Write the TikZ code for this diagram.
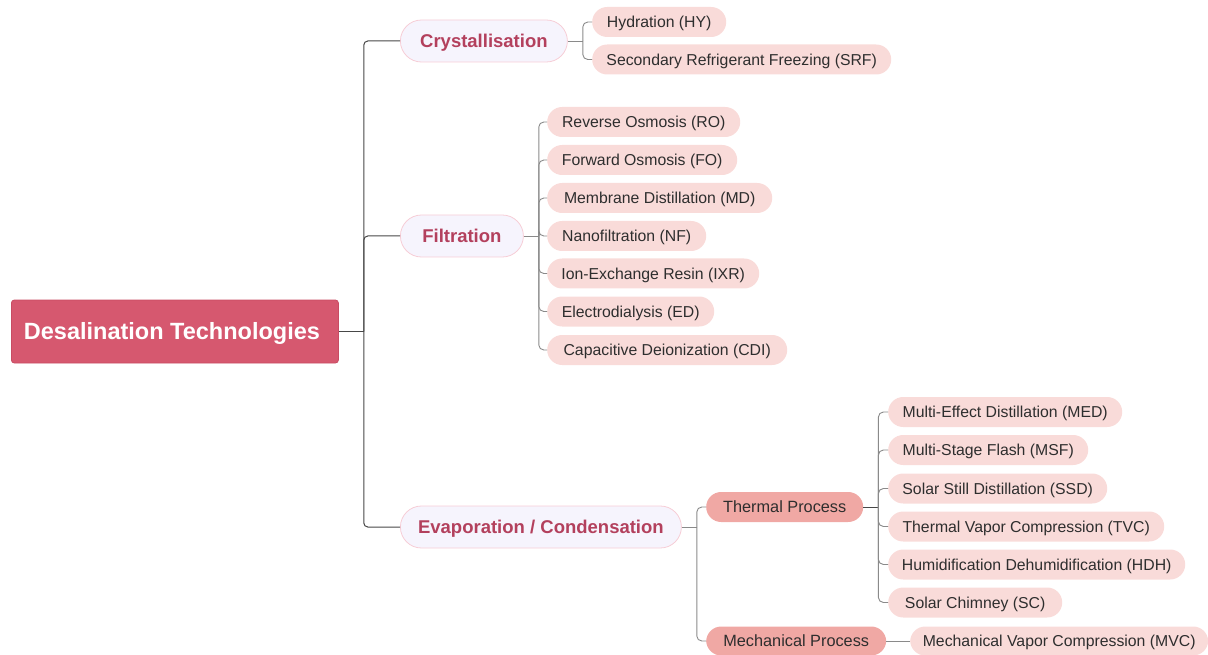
\documentclass[tikz,border=0pt]{standalone}
\usepackage{fontspec}
\setmainfont{Liberation Sans}
\definecolor{rootc}{HTML}{D6586F}
\definecolor{rootd}{HTML}{C84C63}
\definecolor{lvfill}{HTML}{F6F4FD}
\definecolor{lvdraw}{HTML}{F6CDD6}
\definecolor{lvtext}{HTML}{B3405D}
\definecolor{leafc}{HTML}{F9DBD9}
\definecolor{procc}{HTML}{F0A8A4}
\definecolor{txt}{HTML}{2E2E2E}
\definecolor{darkl}{HTML}{474747}
\definecolor{lightl}{HTML}{8A8A8A}
\begin{document}
\begin{tikzpicture}[x=1pt,y=-1pt,
  rootbox/.style={text height=16.8pt, text depth=0pt, fill=rootc, draw=rootd, line width=0.8pt, rounded corners=3pt, minimum height=63pt, inner sep=0pt, text=white, font=\fontsize{23.5}{27}\selectfont\bfseries},
  lvbox/.style={text height=13.25pt, text depth=0pt, fill=lvfill, draw=lvdraw, line width=0.8pt, rounded corners=21pt, minimum height=42pt, inner sep=0pt, anchor=west, text=lvtext, font=\fontsize{18.5}{22}\selectfont\bfseries},
  leaf/.style={text height=11.3pt, text depth=0pt, fill=leafc, rounded corners=15pt, minimum height=30pt, inner sep=0pt, anchor=west, text=txt, font=\fontsize{15.8}{19}\selectfont},
  proc/.style={text height=11.7pt, text depth=0pt, fill=procc, rounded corners=15pt, minimum height=30pt, inner sep=0pt, anchor=west, text=txt, font=\fontsize{16.3}{19}\selectfont},
  conn/.style={draw=darkl, line width=1pt},
  lconn/.style={draw=lightl, line width=0.9pt, rounded corners=5pt}
]
\useasboundingbox (0,0) rectangle (1208,655);
% root
\node[rootbox, minimum width=327pt, anchor=west] (root) at (11,331.5) {\hspace*{-6pt}Desalination Technologies};
% level 1
\node[lvbox, minimum width=167pt] (cry) at (400,41) {Crystallisation};
\node[lvbox, minimum width=123pt] (fil) at (400,236) {Filtration};
\node[lvbox, minimum width=281pt] (eva) at (400,527) {Evaporation / Condensation};
% crystallisation leaves
\node[leaf, minimum width=134pt] (hy) at (592,22) {Hydration (HY)};
\node[leaf, minimum width=299pt] (srf) at (592,59.5) {Secondary Refrigerant Freezing (SRF)};
% filtration leaves
\node[leaf, minimum width=193pt] (ro) at (547,122) {Reverse Osmosis (RO)};
\node[leaf, minimum width=190pt] (fo) at (547,160) {Forward Osmosis (FO)};
\node[leaf, minimum width=225pt] (md) at (547,198) {Membrane Distillation (MD)};
\node[leaf, minimum width=159pt] (nf) at (547,236) {Nanofiltration (NF)};
\node[leaf, minimum width=212pt] (ixr) at (547,273.5) {Ion-Exchange Resin (IXR)};
\node[leaf, minimum width=167pt] (ed) at (547,311.5) {Electrodialysis (ED)};
\node[leaf, minimum width=240pt] (cdi) at (547,350) {Capacitive Deionization (CDI)};
% processes
\node[proc, minimum width=157pt] (thp) at (706,507) {Thermal Process};
\node[proc, minimum width=180pt, minimum height=29pt] (mep) at (706,641) {Mechanical Process};
% thermal leaves
\node[leaf, minimum width=234pt] (med) at (888,412) {Multi-Effect Distillation (MED)};
\node[leaf, minimum width=200pt] (msf) at (888,450) {Multi-Stage Flash (MSF)};
\node[leaf, minimum width=219pt] (ssd) at (888,488.5) {Solar Still Distillation (SSD)};
\node[leaf, minimum width=276pt] (tvc) at (888,526.5) {Thermal Vapor Compression (TVC)};
\node[leaf, minimum width=297pt] (hdh) at (888,564.5) {Humidification Dehumidification (HDH)};
\node[leaf, minimum width=174pt] (sc) at (888,602.5) {Solar Chimney (SC)};
\node[leaf, minimum width=298pt, minimum height=29pt] (mvc) at (910,641) {Mechanical Vapor Compression (MVC)};
% connectors root
\draw[conn] (root.east) -- ++(25,0) coordinate (jr);
\foreach \c in {cry,fil,eva} \draw[conn, rounded corners=4pt] (jr) |- (\c.west);
% crystallisation
\draw[lconn] (cry.east) -- ++(15,0) coordinate (jc);
\foreach \c in {hy,srf} \draw[lconn] (jc) |- (\c.west);
% filtration
\draw[lconn] (fil.east) -- ++(15,0) coordinate (jf);
\foreach \c in {ro,fo,md,nf,ixr,ed,cdi} \draw[lconn] (jf) |- (\c.west);
% evaporation
\draw[lconn] (eva.east) -- ++(15,0) coordinate (je);
\foreach \c in {thp,mep} \draw[lconn] (je) |- (\c.west);
% thermal
\draw[conn] (thp.east) -- ++(15,0) coordinate (jt);
\foreach \c in {med,msf,ssd,tvc,hdh,sc} \draw[lconn] (jt) |- (\c.west);
% mechanical
\draw[lconn] (mep.east) -- (mvc.west);
\end{tikzpicture}
\end{document}
